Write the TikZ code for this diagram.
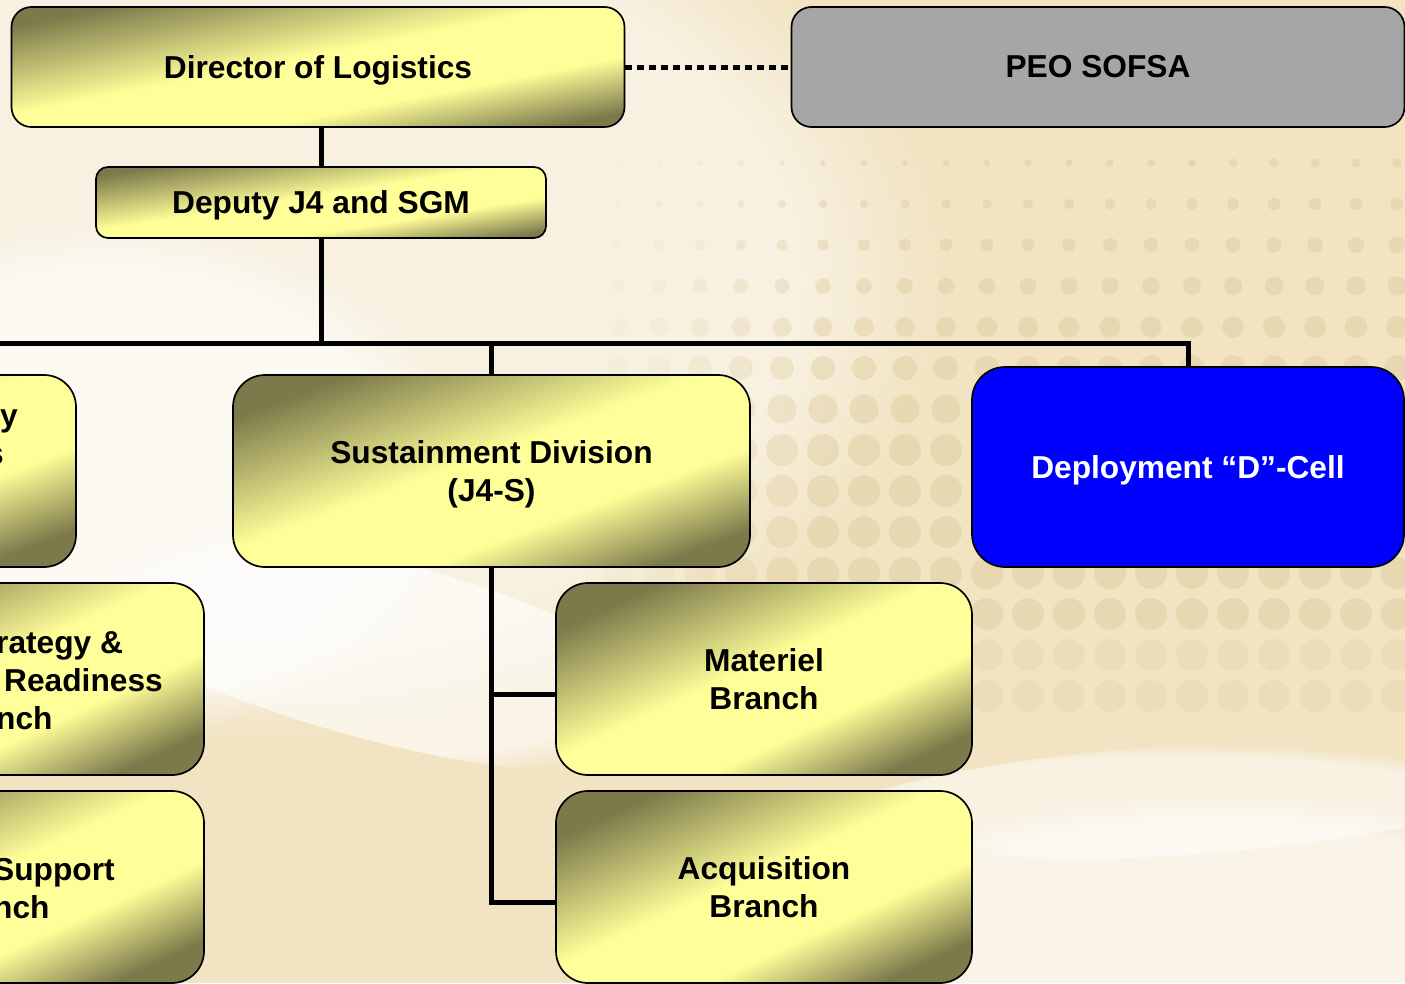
\documentclass[tikz,border=0pt]{standalone}
\usepackage{fontspec}
\setmainfont{Liberation Sans}
\usetikzlibrary{fadings}

\definecolor{oliveD}{RGB}{124,121,74}
\definecolor{lemon}{RGB}{255,255,153}
\definecolor{peogray}{RGB}{166,166,166}
\definecolor{cellblue}{RGB}{0,0,255}
\definecolor{bgbase}{RGB}{242,228,195}
\definecolor{dotc}{RGB}{214,192,140}

\pgfdeclarehorizontalshading{olivebar}{100bp}{color(0bp)=(oliveD); color(25bp)=(oliveD); color(47bp)=(lemon); color(62bp)=(lemon); color(76bp)=(oliveD); color(100bp)=(oliveD)}

\tikzset{
  box/.style={draw=black, line width=1.7pt, align=center, text=black, inner sep=0pt,
    font=\fontsize{31.7}{38}\selectfont\bfseries},
  olivebox/.style={box, shade, shading=olivebar, shading angle=#1},
  oneline/.style={text depth=0pt},
  link/.style={draw=black, line width=5pt},
  dotlink/.style={draw=black, line width=5pt, dash pattern=on 6.5pt off 5.5pt},
  frag/.style={anchor=west, align=left, inner sep=0pt,
    font=\fontsize{31.7}{38}\selectfont\bfseries},
}

\begin{document}
\begin{tikzpicture}[x=1pt, y=-1pt]
  \useasboundingbox (0,0) rectangle (1405,983);
  \clip (0,0) rectangle (1405,983);

  % background
  \fill[bgbase] (0,0) rectangle (1405,983);
  \fill[white, opacity=0.5, path fading=circle with fuzzy edge 20 percent]
    (220,280) ellipse [x radius=720, y radius=460];
  \fill[white, opacity=0.6, path fading=circle with fuzzy edge 20 percent]
    (110,480) ellipse [x radius=360, y radius=260];
  \fill[white, opacity=0.6, path fading=circle with fuzzy edge 20 percent,
    rotate around={-15:(380,650)}] (380,650) ellipse [x radius=340, y radius=90];
  \fill[white, opacity=0.55, path fading=circle with fuzzy edge 20 percent,
    rotate around={4:(1180,800)}] (1180,800) ellipse [x radius=360, y radius=55];
  \fill[white, opacity=0.6, path fading=circle with fuzzy edge 20 percent]
    (1220,935) ellipse [x radius=400, y radius=140];
  \foreach \i in {0,...,19} {
  \foreach \j in {0,...,13} {
    \pgfmathsetmacro{\rad}{min(16,5+1.6*\j)*(1-(1-\i/19)*max(0,0.6-0.1*\j))}
    \pgfmathsetmacro{\op}{0.32*min(1,(\i+1)/6)*((\j<12) ? 1 : 0.6)}
    \fill[dotc, opacity=\op] (618+41*\i, 163+41*\j) circle [radius=\rad];
  } }

  % boxes
  \node[olivebox=-78.9, oneline, minimum width=613pt, minimum height=120pt, rounded corners=20pt]
    (dir) at (318,67) {Director of Logistics};
  \node[box, fill=peogray, minimum width=613pt, minimum height=120pt, rounded corners=20pt]
    (peo) at (1098,67) {PEO SOFSA};
  \node[olivebox=-81, oneline, minimum width=450pt, minimum height=71pt, rounded corners=12pt]
    (dep) at (321,202.5) {Deputy J4 and SGM};
  \node[olivebox=-69.6, minimum width=517pt, minimum height=192pt, rounded corners=32pt]
    (sust) at (491.5,471) {Sustainment Division\\\smash{(J4-S)}};
  \node[box, oneline, fill=cellblue, text=white, minimum width=432pt, minimum height=200pt, rounded corners=33pt]
    (dcell) at (1188,467) {Deployment “D”-Cell};
  \node[olivebox=-65.2, minimum width=416pt, minimum height=192pt, rounded corners=32pt]
    (mat) at (764,679) {Materiel\\Branch};
  \node[olivebox=-65.2, minimum width=416pt, minimum height=192pt, rounded corners=32pt]
    (acq) at (764,887) {Acquisition\\Branch};

  % boxes cut by the left edge
  \node[olivebox=-69.6, minimum width=517pt, minimum height=192pt, rounded corners=32pt]
    (polbox) at (-182.5,471) {};
  \node[olivebox=-65.2, minimum width=416pt, minimum height=192pt, rounded corners=32pt]
    (strbox) at (-4,679) {};
  \node[olivebox=-65.2, minimum width=416pt, minimum height=192pt, rounded corners=32pt]
    (supbox) at (-4,887) {};
  \node[frag] (poltxt) at (-14,437) {\hspace*{14pt}y\\s};
  \node[frag] (strtxt) at (-4,681) {rategy \&\\\hspace*{8pt}Readiness\\nch};
  \node[frag] (suptxt) at (-7,889) {Support\\nch};

  % connectors
  \coordinate (busL) at (-30,343);
  \coordinate (bus) at (321,343);
  \coordinate (matin) at ([yshift=-15pt]mat.west);
  \coordinate (acqin) at ([yshift=-15pt]acq.west);

  \draw[dotlink] (dir.east) -- (peo.west);
  \draw[link] (dep.north) -- (dep.north |- dir.south);
  \draw[link] (dep.south) -- (bus);
  \draw[link] (busL) -- (bus -| dcell.north) -- (dcell.north);
  \draw[link] (bus -| sust.north) -- (sust.north);
  \draw[link] (sust.south) |- (acqin);
  \draw[link] (sust.south |- matin) -- (matin);

\end{tikzpicture}
\end{document}
